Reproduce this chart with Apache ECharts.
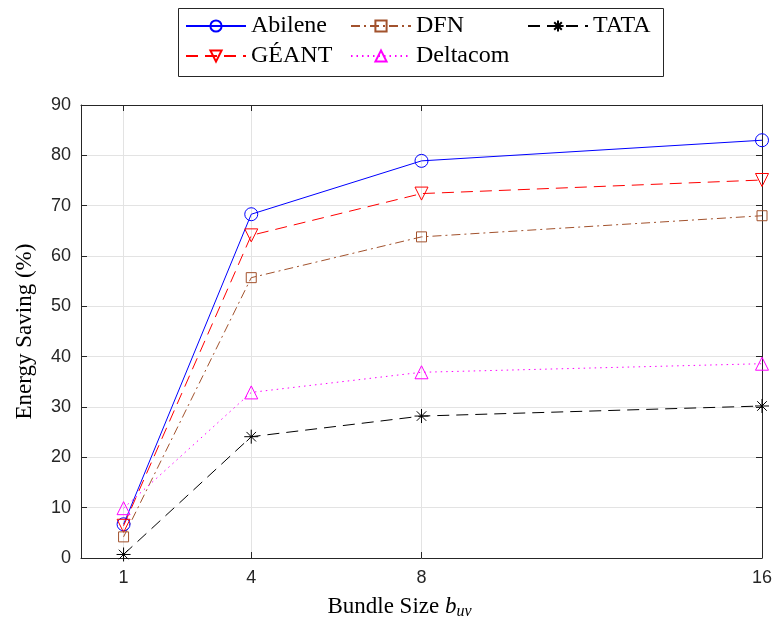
<!DOCTYPE html>
<html><head><meta charset="utf-8">
<script src="https://cdn.jsdelivr.net/npm/echarts@6/dist/echarts.min.js"></script>
<style>html,body{margin:0;padding:0;background:#fff}#c{width:774px;height:623px}</style>
</head><body><div id="c"></div>
<script>
const bundleSizes = [1, 4, 8, 16];
const xTickValues = [1, 4, 8, 16];
const seriesNames = ['Abilene', 'GÉANT', 'DFN', 'Deltacom', 'TATA'];
const abilene  = [6.7, 68.3, 78.9, 83.0];
const geant    = [6.4, 64.1, 72.4, 75.1];
const dfn      = [4.2, 55.7, 63.8, 68.0];
const deltacom = [9.9, 32.9, 36.9, 38.6];
const tata     = [0.7, 24.1, 28.2, 30.2];

const serif = '"Liberation Serif", "DejaVu Serif", serif';
const sans = '"Liberation Sans", Arial, sans-serif';
const axisColor = '#262626';
const starPath = 'path://M5,0L5,10M0,5L10,5M1.6,1.6L8.4,8.4M1.6,8.4L8.4,1.6';

function pts(vals) { return bundleSizes.map((x, i) => [x, vals[i]]); }

const styles = [
  { data: abilene,  color: '#0000ff', type: 'solid',      symbol: 'circle',   size: 13, rot: 0 },
  { data: geant,    color: '#ff0000', type: [12, 7],      symbol: 'triangle', size: 13, rot: 180 },
  { data: dfn,      color: '#a2522d', type: [9, 4, 2, 4], symbol: 'rect',     size: 10, rot: 0 },
  { data: deltacom, color: '#ff00ff', type: [1.5, 4],     symbol: 'triangle', size: 13, rot: 0 },
  { data: tata,     color: '#000000', type: [12, 7],      symbol: starPath,   size: 14, rot: 0 }
];

const series = styles.map((s, i) => ({
  name: seriesNames[i],
  type: 'line',
  data: pts(s.data),
  symbol: s.symbol,
  symbolSize: s.size,
  symbolRotate: s.rot,
  showAllSymbol: true,
  lineStyle: { color: s.color, width: 1, type: s.type },
  itemStyle: { color: 'rgba(0,0,0,0)', borderColor: s.color, borderWidth: 1 },
  emphasis: { disabled: true },
  animation: false,
  z: 3
}));

// legend placement (MATLAB 3-column, column-major)
const legendPos = [
  { left: 185, top: 14 }, // Abilene
  { left: 185, top: 44 }, // GÉANT
  { left: 350, top: 14 }, // DFN
  { left: 350, top: 44 }, // Deltacom
  { left: 527, top: 14 }  // TATA
];
const legends = seriesNames.map((n, i) => ({
  data: [n],
  left: legendPos[i].left,
  top: legendPos[i].top,
  padding: 0,
  itemWidth: 60,
  itemHeight: 14,
  selectedMode: false,
  textStyle: { fontFamily: serif, fontSize: 24, color: '#000' }
}));

const chart = echarts.init(document.getElementById('c'), null, { renderer: 'canvas' });
chart.setOption({
  animation: false,
  backgroundColor: '#fff',
  grid: { left: 81, right: 12, top: 105, bottom: 65, containLabel: false, outerBoundsMode: 'none' },
  legend: legends,
  graphic: [{
    type: 'rect', z: 0,
    shape: { x: 178.5, y: 8.5, width: 485, height: 68 },
    style: { fill: '#fff', stroke: axisColor, lineWidth: 1 }
  }],
  xAxis: [{
    type: 'value', min: 0, max: 16, position: 'bottom',
    name: '{n|Bundle Size }{b|b}{s|uv}',
    nameLocation: 'middle', nameGap: 36,
    nameTextStyle: { padding: [0, 44, 0, 0], rich: {
      n: { fontFamily: serif, fontSize: 23, color: '#000' },
      b: { fontFamily: serif, fontSize: 23, fontStyle: 'italic', color: '#000' },
      s: { fontFamily: serif, fontSize: 16, fontStyle: 'italic', color: '#000', verticalAlign: 'bottom', padding: [10, 0, 0, 0] }
    }},
    axisLine: { show: true, onZero: false, lineStyle: { color: axisColor, width: 1 } },
    axisTick: { show: true, inside: true, length: 6, customValues: xTickValues, lineStyle: { color: axisColor } },
    axisLabel: { show: true, customValues: xTickValues, margin: 11, fontFamily: sans, fontSize: 18, color: axisColor },
    splitLine: { show: true, lineStyle: { color: '#e3e3e3', width: 1 } }
  }, {
    type: 'value', min: 0, max: 16, position: 'top',
    axisLine: { show: true, onZero: false, lineStyle: { color: axisColor, width: 1 } },
    axisTick: { show: true, inside: true, length: 6, customValues: xTickValues, lineStyle: { color: axisColor } },
    axisLabel: { show: false, customValues: xTickValues },
    splitLine: { show: false }
  }],
  yAxis: [{
    type: 'value', min: 0, max: 90, interval: 10, position: 'left',
    name: 'Energy Saving (%)',
    nameLocation: 'middle', nameGap: 45,
    nameTextStyle: { fontFamily: serif, fontSize: 23, color: '#000' },
    axisLine: { show: true, onZero: false, lineStyle: { color: axisColor, width: 1 } },
    axisTick: { show: true, inside: true, length: 6, lineStyle: { color: axisColor } },
    axisLabel: { margin: 10, fontFamily: sans, fontSize: 18, color: axisColor },
    splitLine: { show: true, lineStyle: { color: '#e3e3e3', width: 1 } }
  }, {
    type: 'value', min: 0, max: 90, interval: 10, position: 'right',
    axisLine: { show: true, onZero: false, lineStyle: { color: axisColor, width: 1 } },
    axisTick: { show: true, inside: true, length: 6, lineStyle: { color: axisColor } },
    axisLabel: { show: false },
    splitLine: { show: false }
  }],
  series: series
});
</script></body></html>
